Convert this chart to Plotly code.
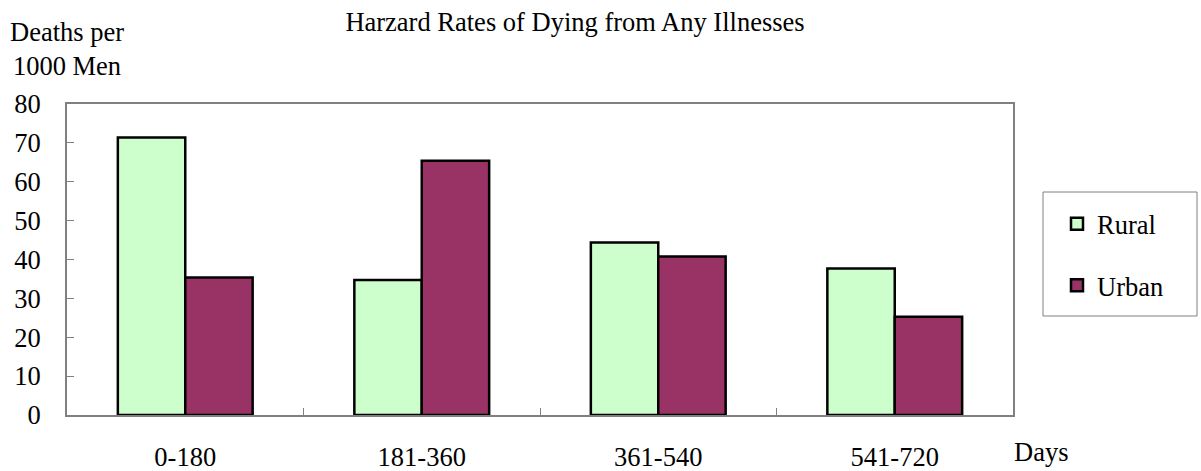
import plotly.graph_objects as go

categories = ["0-180", "181-360", "361-540", "541-720"]
rural = [71.4, 34.7, 44.4, 37.7]
urban = [35.4, 65.4, 40.8, 25.3]
y_ticks = [0, 10, 20, 30, 40, 50, 60, 70, 80]

FONT = "Liberation Serif, Times New Roman, serif"
FS = 26.5

L, R, T, B = 67, 188, 104, 56
PW, PH = 1201 - L - R, 471 - T - B


def px_x(p):
    return (p - L) / PW


def px_y(p):
    return (471 - B - p) / PH


fig = go.Figure()
fig.add_trace(go.Bar(name="Rural", x=categories, y=rural,
                     marker=dict(color="#CCFFCC", line=dict(color="black", width=2.5)),
                     legendgroup="r"))
fig.add_trace(go.Bar(name="Urban", x=categories, y=urban,
                     marker=dict(color="#993366", line=dict(color="black", width=2.5)),
                     legendgroup="u"))

fig.update_layout(
    width=1201, height=471,
    margin=dict(l=L, r=R, t=T, b=B, autoexpand=False),
    paper_bgcolor="white", plot_bgcolor="white",
    font=dict(family=FONT, size=FS, color="black"),
    barmode="group", bargap=0.43, bargroupgap=0,
    title=dict(text="Harzard Rates of Dying from Any Illnesses", x=575 / 1201, xanchor="center",
               y=1 - 22 / 471, yanchor="middle", font=dict(family=FONT, size=FS)),
    legend=dict(x=px_x(1057), xanchor="left", y=px_y(200), yanchor="top",
                bgcolor="rgba(0,0,0,0)", borderwidth=0, tracegroupgap=24,
                traceorder="grouped", font=dict(family=FONT, size=FS)),
    showlegend=True,
)
fig.update_xaxes(showline=True, linecolor="#808080", linewidth=2, mirror=True,
                 ticks="inside", tickson="boundaries", ticklen=7, tickcolor="#808080",
                 showgrid=False, ticklabelstandoff=17, automargin=False)
fig.update_yaxes(range=[0, 80], tickvals=y_ticks, showline=True, linecolor="#808080",
                 linewidth=2, mirror=True, ticks="inside", ticklen=7, tickcolor="#808080",
                 showgrid=False, zeroline=False, ticklabelstandoff=19, automargin=False)

fig.add_shape(type="rect", xref="paper", yref="paper",
              x0=px_x(1043), x1=px_x(1197), y0=px_y(316), y1=px_y(192),
              line=dict(color="#808080", width=1), fillcolor="rgba(0,0,0,0)")

fig.add_annotation(text="Deaths per<br>1000 Men", xref="paper", yref="paper",
                   x=0, y=px_y(49), xanchor="center", yanchor="middle", showarrow=False,
                   align="center", font=dict(family=FONT, size=FS))
fig.add_annotation(text="Days", xref="paper", yref="paper",
                   x=px_x(1012), y=px_y(452), xanchor="left", yanchor="middle", showarrow=False,
                   font=dict(family=FONT, size=FS))

fig.write_html("out.html", config={"displayModeBar": False},
               post_script="document.body.style.margin='0';")
